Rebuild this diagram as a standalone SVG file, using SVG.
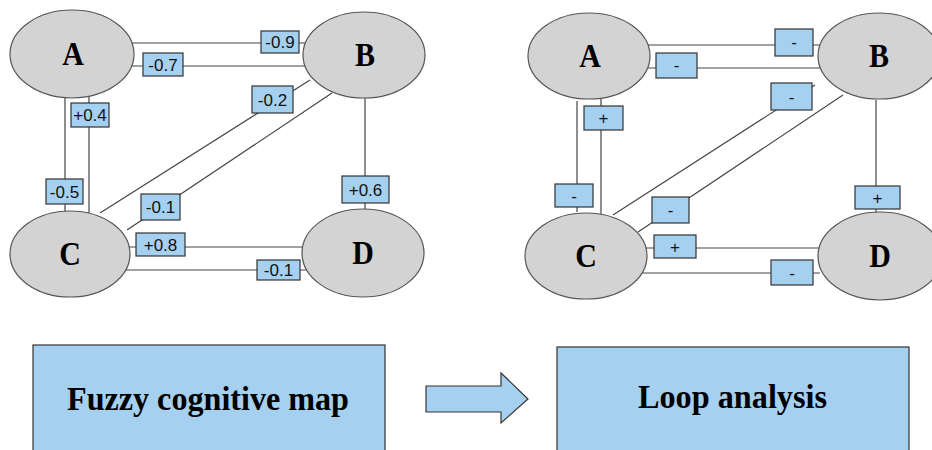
<svg xmlns="http://www.w3.org/2000/svg" width="932" height="450" viewBox="0 0 932 450">
<style>
.ln{stroke:#444;stroke-width:1.2;fill:none}
.lb{fill:#a6d0f0;stroke:#333;stroke-width:1.2}
.lt{font-family:"Liberation Sans",Arial,sans-serif;font-size:17px;fill:#111;text-anchor:middle}
.nd{fill:#d3d3d3;stroke:#555;stroke-width:1.2}
.nt{font-family:"Liberation Serif","Times New Roman",serif;font-size:30px;font-weight:bold;fill:#000;text-anchor:middle}
.bx{fill:#a6d0f0;stroke:#333;stroke-width:1.2}
.bt{font-family:"Liberation Serif","Times New Roman",serif;font-size:34px;font-weight:bold;fill:#000;text-anchor:middle}
</style>
<rect width="932" height="450" fill="#fff"/>
<g id="connectors">
<line class="ln" x1="130" y1="43" x2="306" y2="43"/>
<line class="ln" x1="130" y1="66" x2="306" y2="66"/>
<line class="ln" x1="65" y1="97" x2="65" y2="212"/>
<line class="ln" x1="89" y1="94" x2="89" y2="213"/>
<line class="ln" x1="310" y1="80" x2="100" y2="213"/>
<line class="ln" x1="332" y1="93" x2="127" y2="230"/>
<line class="ln" x1="365" y1="98" x2="365" y2="210"/>
<line class="ln" x1="128" y1="247" x2="304" y2="247"/>
<line class="ln" x1="124" y1="270" x2="306" y2="270"/>
<rect class="lb" x="261" y="31" width="38" height="22"/><text class="lt" x="280" y="48">-0.9</text>
<rect class="lb" x="143" y="53" width="40" height="23"/><text class="lt" x="163" y="70.5">-0.7</text>
<rect class="lb" x="46" y="179" width="37" height="25"/><text class="lt" x="64.5" y="197.5">-0.5</text>
<rect class="lb" x="71" y="103" width="38" height="24"/><text class="lt" x="90" y="121">+0.4</text>
<rect class="lb" x="252" y="86" width="41" height="27"/><text class="lt" x="272.5" y="105.5">-0.2</text>
<rect class="lb" x="141" y="194" width="39" height="26"/><text class="lt" x="160.5" y="213">-0.1</text>
<rect class="lb" x="342" y="176" width="47" height="27"/><text class="lt" x="365.5" y="195.5">+0.6</text>
<rect class="lb" x="136" y="233" width="49" height="23"/><text class="lt" x="160.5" y="250.5">+0.8</text>
<rect class="lb" x="257" y="260" width="43" height="20"/><text class="lt" x="278.5" y="276">-0.1</text>

<line class="ln" x1="648" y1="45" x2="820" y2="45"/>
<line class="ln" x1="648" y1="68" x2="820" y2="68"/>
<line class="ln" x1="577" y1="101" x2="577" y2="212"/>
<line class="ln" x1="601" y1="98" x2="601" y2="214"/>
<line class="ln" x1="815" y1="85" x2="613" y2="215"/>
<line class="ln" x1="843" y1="95" x2="638" y2="232"/>
<line class="ln" x1="876" y1="100" x2="876" y2="213"/>
<line class="ln" x1="646" y1="248" x2="820" y2="248"/>
<line class="ln" x1="641" y1="273" x2="820" y2="273"/>
<rect class="lb" x="775" y="29" width="38" height="27"/><text class="lt" x="794" y="48">-</text>
<rect class="lb" x="656" y="53" width="41" height="25"/><text class="lt" x="676.5" y="71">-</text>
<rect class="lb" x="555" y="184" width="38" height="23"/><text class="lt" x="574" y="201.5">-</text>
<rect class="lb" x="584" y="106" width="39" height="24"/><text class="lt" x="603.5" y="124">+</text>
<rect class="lb" x="771" y="83" width="41" height="27"/><text class="lt" x="791.5" y="102.5">-</text>
<rect class="lb" x="652" y="197" width="37" height="26"/><text class="lt" x="670.5" y="216">-</text>
<rect class="lb" x="855" y="186" width="45" height="23"/><text class="lt" x="877.5" y="203.5">+</text>
<rect class="lb" x="654" y="235" width="42" height="23"/><text class="lt" x="675" y="252.5">+</text>
<rect class="lb" x="771" y="260" width="42" height="25"/><text class="lt" x="792" y="278.5">-</text>

<polygon class="bx" points="426,386 501,386 501,373 528,399 501,423 501,412 426,412"/>
</g>
<g id="node-A1"><ellipse class="nd" cx="72" cy="54" rx="62" ry="44"/><text class="nt" transform="translate(73,65) scale(1,1.15)">A</text></g>
<g id="node-B1"><ellipse class="nd" cx="364" cy="55" rx="61" ry="43"/><text class="nt" transform="translate(365,66) scale(1,1.15)">B</text></g>
<g id="node-C1"><ellipse class="nd" cx="70" cy="254" rx="60" ry="43"/><text class="nt" transform="translate(70,265) scale(1,1.15)">C</text></g>
<g id="node-D1"><ellipse class="nd" cx="363" cy="253" rx="61" ry="44"/><text class="nt" transform="translate(363,264) scale(1,1.15)">D</text></g>
<g id="node-A2"><ellipse class="nd" cx="589" cy="56" rx="61" ry="43"/><text class="nt" transform="translate(590,67) scale(1,1.15)">A</text></g>
<g id="node-B2"><ellipse class="nd" cx="879" cy="56" rx="61" ry="43"/><text class="nt" transform="translate(879,67) scale(1,1.15)">B</text></g>
<g id="node-C2"><ellipse class="nd" cx="586" cy="256" rx="61" ry="43"/><text class="nt" transform="translate(586,267) scale(1,1.15)">C</text></g>
<g id="node-D2"><ellipse class="nd" cx="880" cy="256" rx="62" ry="44"/><text class="nt" transform="translate(880,267) scale(1,1.15)">D</text></g>
<g id="box-fcm"><rect class="bx" x="33" y="345" width="352" height="115"/><text class="bt" x="208" y="410" textLength="282" lengthAdjust="spacingAndGlyphs">Fuzzy cognitive map</text></g>
<g id="box-loop"><rect class="bx" x="557" y="347" width="352" height="115"/><text class="bt" x="732.5" y="408" textLength="189" lengthAdjust="spacingAndGlyphs">Loop analysis</text></g>
</svg>
